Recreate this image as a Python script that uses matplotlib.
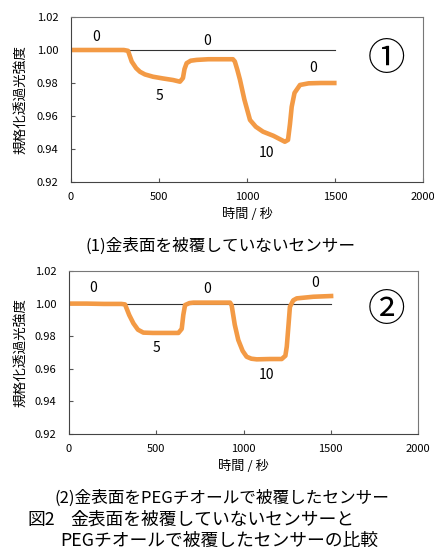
import matplotlib
matplotlib.use("Agg")
import matplotlib.pyplot as plt

plt.rcParams['font.family'] = ['Noto Sans CJK JP', 'DejaVu Sans']

# Panel 1: sensor without gold surface coating
t1 = [0, 100, 200, 300, 324, 345, 370, 392, 420, 466, 520, 580, 619, 636, 645, 657, 680, 714, 780, 850, 920,
      931, 945, 960, 985, 1017, 1050, 1091, 1150, 1215, 1233, 1244, 1254, 1270, 1301, 1350, 1420, 1509]
y1 = [1.000, 1.000, 1.000, 1.000, 0.9995, 0.993, 0.989, 0.9868, 0.9852, 0.9838, 0.9828, 0.9818, 0.9808, 0.9830, 0.9885, 0.992, 0.9935, 0.994, 0.9944, 0.9944, 0.9944,
      0.993, 0.988, 0.982, 0.970, 0.9576, 0.9535, 0.9505, 0.948, 0.9444, 0.9455, 0.955, 0.9656, 0.974, 0.9788, 0.9798, 0.980, 0.980]

# Panel 2: sensor coated with PEG thiol
t2 = [0, 100, 200, 300, 321, 345, 369, 395, 426, 480, 560, 627, 646, 655, 665, 690, 713, 800, 923,
      932, 950, 970, 995, 1018, 1045, 1076, 1150, 1219, 1240, 1248, 1258, 1266, 1285, 1305, 1400, 1515]
y2 = [1.000, 1.000, 0.9998, 0.9998, 0.9995, 0.993, 0.9879, 0.984, 0.9822, 0.982, 0.982, 0.982, 0.9845, 0.993, 0.9991, 1.0003, 1.0006, 1.0006, 1.0006,
      0.999, 0.987, 0.9777, 0.971, 0.9674, 0.9662, 0.9658, 0.966, 0.966, 0.968, 0.9736, 0.987, 0.998, 1.002, 1.0032, 1.0042, 1.0047]

# Concentration annotations (label, t, y)
ann1 = [("0", 142, 1.008), ("0", 773, 1.0055), ("5", 500, 0.972), ("10", 1112, 0.9375), ("0", 1376, 0.989)]
ann2 = [("0", 136, 1.0094), ("0", 789, 1.0088), ("0", 1410, 1.0125), ("5", 499, 0.9726), ("10", 1133, 0.956)]
panel_marks = ["①", "②"]
yticks = [0.92, 0.94, 0.96, 0.98, 1.00, 1.02]
xticks = [0, 500, 1000, 1500, 2000]

W, H = 434, 556
fig = plt.figure(figsize=(W / 100, H / 100), dpi=100)

def make_axes(rect, t, y, ann, mark, mark_pos):
    ax = fig.add_axes(rect)
    hpx = rect[3] * H
    wpx = rect[2] * W
    ax.plot([0, 1500], [1.0, 1.0], color="#333333", lw=0.8, zorder=1)
    ax.plot(t, y, color="#F39A45", lw=3.3, solid_capstyle="butt", solid_joinstyle="round", zorder=2)
    ax.set_xlim(0, 2000)
    ax.set_ylim(0.92, 1.02)
    ax.set_xticks(xticks)
    ax.set_xticklabels([str(v) for v in xticks], fontsize=8)
    ax.set_yticks(yticks)
    ax.set_yticklabels([f"{v:.2f}" for v in yticks], fontsize=8)
    ax.tick_params(axis="x", length=3, direction="in", color="#555555", pad=7)
    ax.tick_params(axis="y", length=3, direction="in", color="#555555", pad=9)
    for s in ax.spines.values():
        s.set_color("#777777")
        s.set_linewidth(0.8)
    ax.spines["left"].set_color("#444444")
    ax.spines["bottom"].set_color("#444444")
    ax.set_xlabel("時間 / 秒", fontsize=9.5)
    ax.xaxis.set_label_coords(0.5, -32 / hpx)
    ax.xaxis.label.set_va("center")
    ax.set_ylabel("規格化透過光強度", fontsize=9.8)
    ax.yaxis.set_label_coords(-(rect[0] * W - 20) / wpx, 0.5)
    ax.yaxis.label.set_va("center")
    for txt, tx, ty in ann:
        ax.text(tx, ty, txt, fontsize=10, ha="center", va="center")
    ax.text(mark_pos[0], mark_pos[1], mark, fontsize=27, ha="center", va="center")
    return ax

make_axes([71 / W, 1 - 182 / H, 352 / W, 165 / H], t1, y1, ann1, panel_marks[0], (1790, 0.9945))
make_axes([69 / W, 1 - 434 / H, 349 / W, 163 / H], t2, y2, ann2, panel_marks[1], (1820, 0.996))

fig.text(221 / W, 1 - 246 / H, "(1)金表面を被覆していないセンサー", fontsize=12, ha="center", va="center")
fig.text(222 / W, 1 - 498 / H, "(2)金表面をPEGチオールで被覆したセンサー", fontsize=12, ha="center", va="center")
fig.text(27 / W, 1 - 520 / H, "図2", fontsize=12.8, ha="left", va="center")
fig.text(70 / W, 1 - 520 / H, "金表面を被覆していないセンサーと", fontsize=12.8, ha="left", va="center")
fig.text(60 / W, 1 - 541 / H, "PEGチオールで被覆したセンサーの比較", fontsize=12.8, ha="left", va="center")

fig.savefig("out.png", dpi=100)
